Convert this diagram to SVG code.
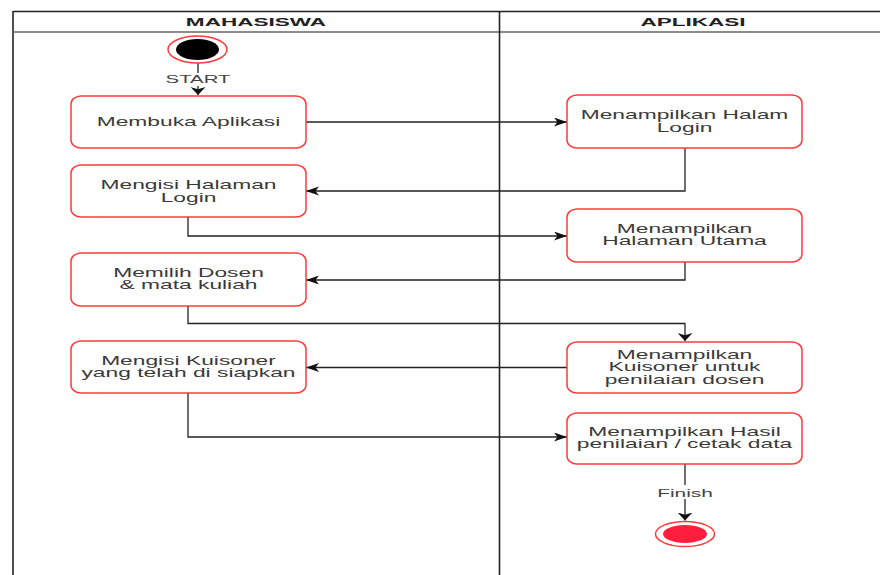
<svg xmlns="http://www.w3.org/2000/svg" width="880" height="575" viewBox="0 0 880 575">
<defs>
<style>
.frame{stroke:#222;stroke-width:1.6;fill:none}
.hdr{stroke:#666;stroke-width:1.4;fill:none}
.box{fill:#fff;stroke:#ff3b3b;stroke-width:1.5}
.t{font-family:"Liberation Sans",Arial,sans-serif;font-size:12px;fill:#3a3a3a;text-anchor:middle}
.h{font-family:"Liberation Sans",Arial,sans-serif;font-size:11px;font-weight:bold;fill:#222;text-anchor:middle}
.lbl{font-family:"Liberation Sans",Arial,sans-serif;font-size:11px;fill:#444;text-anchor:middle}
.c{stroke:#222;stroke-width:1.3;fill:none}
</style>
<marker id="arrH" markerUnits="userSpaceOnUse" markerWidth="14" markerHeight="10" refX="13" refY="4.5" orient="auto">
<path d="M0,0 L13,4.5 L0,9 L3.5,4.5 Z" fill="#111"/>
</marker>
<marker id="arrV" markerUnits="userSpaceOnUse" markerWidth="16" markerHeight="10" refX="7.5" refY="8" orient="0">
<path d="M0,0 L7.5,2.2 L15,0 L7.5,8 Z" fill="#111"/>
</marker>
</defs>
<rect width="880" height="575" fill="#fff"/>

<g id="pool">
<line class="frame" x1="13" y1="11.5" x2="880" y2="11.5"/>
<line class="frame" x1="13" y1="11" x2="13" y2="575"/>
<line class="hdr" x1="13" y1="32" x2="880" y2="32"/>
<line class="frame" x1="499.5" y1="11" x2="499.5" y2="575"/>
<text class="h" transform="matrix(2.05 0 0 1 256 26)">MAHASISWA</text>
<text class="h" transform="matrix(2.05 0 0 1 693 26)">APLIKASI</text>
</g>

<g id="connectors">
<path class="c" d="M198,63 V95" marker-end="url(#arrV)"/>
<rect x="166" y="73" width="64" height="13" fill="#fff"/>
<text class="lbl" transform="matrix(1.85 0 0 1 198 83.3)">START</text>
<path class="c" d="M306,122 H567" marker-end="url(#arrH)"/>
<path class="c" d="M685,148 V191 H306" marker-end="url(#arrH)"/>
<path class="c" d="M188,217 V236 H567" marker-end="url(#arrH)"/>
<path class="c" d="M685,262 V280 H306" marker-end="url(#arrH)"/>
<path class="c" d="M188,306 V323.5 H685 V341" marker-end="url(#arrV)"/>
<path class="c" d="M567,367.5 H306" marker-end="url(#arrH)"/>
<path class="c" d="M188,393 V437 H567" marker-end="url(#arrH)"/>
<path class="c" d="M685,464 V520.5" marker-end="url(#arrV)"/>
<rect x="655" y="485" width="60" height="14" fill="#fff"/>
<text class="lbl" transform="matrix(1.9 0 0 1 685 496.7)">Finish</text>
</g>

<g id="start">
<ellipse cx="197.5" cy="49.5" rx="29.5" ry="13.5" fill="#fff" stroke="#ff3b3b" stroke-width="1.5"/>
<ellipse cx="197.5" cy="49.5" rx="21.5" ry="10.5" fill="#000"/>
</g>

<g id="membuka-aplikasi">
<rect class="box" x="71" y="96" width="235" height="52" rx="10" ry="8"/>
<text class="t" transform="matrix(1.9 0 0 1 188.5 126)">Membuka Aplikasi</text>
</g>

<g id="mengisi-login">
<rect class="box" x="71" y="165" width="235" height="52" rx="10" ry="8"/>
<text class="t" transform="matrix(1.9 0 0 1 188.5 189.3)"><tspan x="0">Mengisi Halaman</tspan><tspan x="0" dy="12.4">Login</tspan></text>
</g>

<g id="memilih-dosen">
<rect class="box" x="71" y="253" width="235" height="53" rx="10" ry="8"/>
<text class="t" transform="matrix(1.9 0 0 1 188.5 277)"><tspan x="0">Memilih Dosen</tspan><tspan x="0" dy="12.4">&amp; mata kuliah</tspan></text>
</g>

<g id="mengisi-kuisoner">
<rect class="box" x="71" y="341" width="235" height="52" rx="10" ry="8"/>
<text class="t" transform="matrix(1.9 0 0 1 188.5 364.8)"><tspan x="0">Mengisi Kuisoner</tspan><tspan x="0" dy="12.4">yang telah di siapkan</tspan></text>
</g>

<g id="tampil-login">
<rect class="box" x="567" y="95" width="235" height="53" rx="10" ry="8"/>
<text class="t" transform="matrix(1.9 0 0 1 684.5 119.2)"><tspan x="0">Menampilkan Halam</tspan><tspan x="0" dy="12.4">Login</tspan></text>
</g>

<g id="tampil-utama">
<rect class="box" x="567" y="209" width="235" height="53" rx="10" ry="8"/>
<text class="t" transform="matrix(1.9 0 0 1 684.5 233)"><tspan x="0">Menampilkan</tspan><tspan x="0" dy="12.4">Halaman Utama</tspan></text>
</g>

<g id="tampil-kuisoner">
<rect class="box" x="567" y="342" width="235" height="51" rx="10" ry="8"/>
<text class="t" transform="matrix(1.9 0 0 1 684.5 359)"><tspan x="0">Menampilkan</tspan><tspan x="0" dy="12.3">Kuisoner untuk</tspan><tspan x="0" dy="12.3">penilaian dosen</tspan></text>
</g>

<g id="tampil-hasil">
<rect class="box" x="567" y="413" width="235" height="51" rx="10" ry="8"/>
<text class="t" transform="matrix(1.9 0 0 1 684.5 435.5)"><tspan x="0">Menampilkan Hasil</tspan><tspan x="0" dy="12.6">penilaian / cetak data</tspan></text>
</g>

<g id="end">
<ellipse cx="685" cy="534" rx="29.5" ry="12.5" fill="#fff" stroke="#ff3b3b" stroke-width="1.5"/>
<ellipse cx="685" cy="534" rx="22" ry="9" fill="#ff1f3d"/>
</g>
</svg>
